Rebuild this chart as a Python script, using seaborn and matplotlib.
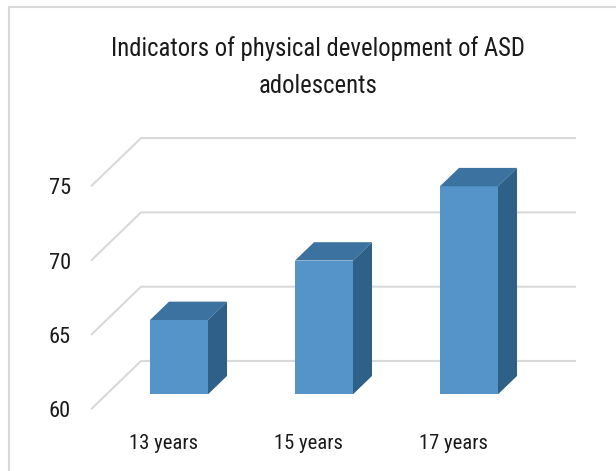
import numpy as np
import pandas as pd
import seaborn as sns
import matplotlib.pyplot as plt
from matplotlib import font_manager
from matplotlib.patches import Polygon, Rectangle

# data
ages = ['13 years', '15 years', '17 years']
values = [65, 69, 74]
y_ticks = [60, 65, 70, 75]
title_lines = ['Indicators of physical development of ASD', 'adolescents']

front_col = '#5594c9'
top_col = '#3b72a0'
side_col = '#2f6188'
grid_col = '#d9d9d9'

# fake 3d: full depth of the floor in data units, bar sits in the middle
depth = np.array([0.345, 3.25])
front_frac = 0.31
bar_frac = 0.38
base = y_ticks[0]


def fit_size(fig, text, width_px, ref=20):
    # font size that makes text about width_px wide
    r = fig.canvas.get_renderer()
    t = fig.text(0, 0, text, fontsize=ref)
    w = t.get_window_extent(r).width
    t.remove()
    return ref * width_px / w


def main():
    sns.set_theme(style='white')
    names = {f.name for f in font_manager.fontManager.ttflist}
    # narrow fonts first, the original is Calibri
    options = ['Liberation Sans Narrow', 'Roboto Condensed', 'Noto Sans Condensed',
               'Open Sans Condensed', 'DejaVu Sans Condensed', 'Roboto']
    font = next((n for n in options if n in names), 'DejaVu Sans')
    plt.rcParams['font.family'] = [font, 'DejaVu Sans']

    df = pd.DataFrame({'age': ages, 'value': values})

    fig = plt.figure(figsize=(6.16, 4.71), dpi=100)
    title_size = fit_size(fig, title_lines[0], 415)
    tick_size = fit_size(fig, ages[0], 69)

    px_x, px_y = 145.0, 14.86
    xlim = (-0.68, 2.9)
    ylim = (58.27, 78.47)
    left = 179 + xlim[0] * px_x
    bottom = 394.3 + (base - ylim[0]) * px_y
    ax = fig.add_axes([left / 616, 1 - bottom / 471,
                       (xlim[1] - xlim[0]) * px_x / 616,
                       (ylim[1] - ylim[0]) * px_y / 471])

    # back wall gridlines with the diagonal on the left side wall
    f0 = -front_frac * depth
    f1 = (1 - front_frac) * depth
    for v in y_ticks:
        xs = [-0.5 + f0[0], -0.5 + f1[0], len(ages) - 0.5 + f1[0]]
        ys = [v + f0[1], v + f1[1], v + f1[1]]
        ax.plot(xs, ys, color=grid_col, lw=1.5, zorder=0, solid_capstyle='butt')

    sns.barplot(data=df, x='age', y='value', ax=ax, color=front_col, width=0.4,
                saturation=1, edgecolor='none', zorder=2)

    d = bar_frac * depth
    for p in ax.patches:
        x0 = p.get_x()
        x1 = x0 + p.get_width()
        top = p.get_height()
        p.set_y(base)
        p.set_height(top - base)
        ax.add_patch(Polygon([(x0, top), (x1, top), (x1 + d[0], top + d[1]), (x0 + d[0], top + d[1])],
                             closed=True, facecolor=top_col, edgecolor='none', zorder=2))
        ax.add_patch(Polygon([(x1, base), (x1, top), (x1 + d[0], top + d[1]), (x1 + d[0], base + d[1])],
                             closed=True, facecolor=side_col, edgecolor='none', zorder=2))

    ax.set_xlim(xlim)
    ax.set_ylim(ylim)
    ax.set_xticks(np.arange(len(ages)) + f0[0])
    ax.set_xticklabels(ages, fontsize=tick_size)
    ax.set_yticks(np.array(y_ticks) + f0[1])
    ax.set_yticklabels([str(t) for t in y_ticks], fontsize=tick_size * 1.08)
    ax.tick_params(axis='x', length=0, pad=10, colors='#1a1a1a')
    ax.tick_params(axis='y', length=0, pad=7, colors='#1a1a1a')
    ax.set_xlabel('')
    ax.set_ylabel('')
    for s in ax.spines.values():
        s.set_visible(False)
    ax.patch.set_alpha(0)

    fig.patches.append(Rectangle((9 / 616, -0.1), 1.2, 1.1 - 7 / 471, transform=fig.transFigure,
                                 fill=False, edgecolor=grid_col, lw=1.5))
    for line, y in zip(title_lines, [55.7, 93.3]):
        fig.text(318 / 616, 1 - y / 471, line, ha='center', va='baseline',
                 fontsize=title_size, color='#1a1a1a')

    fig.savefig('out.png', dpi=100)


if __name__ == '__main__':
    main()
